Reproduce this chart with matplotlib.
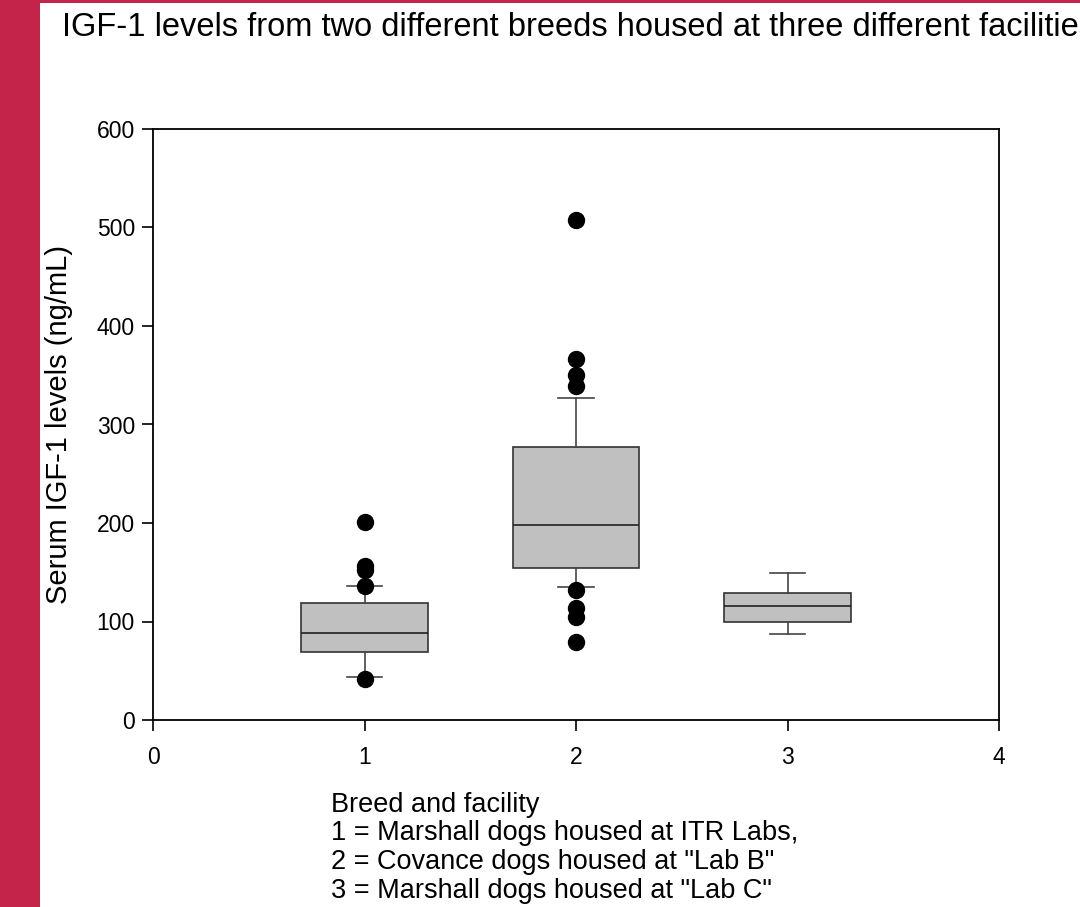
import matplotlib
matplotlib.use("Agg")
import matplotlib.pyplot as plt
import matplotlib.patches as mpatches

plt.rcParams['font.family'] = ['Liberation Sans', 'DejaVu Sans']

# Box statistics (ng/mL)
groups = [1, 2, 3]
q1 = [69, 154, 100]
medians = [88, 198, 116]
q3 = [119, 277, 129]
whisker_lo = [44, 135, 87]
whisker_hi = [136, 327, 149]
outliers = [
    [201, 156, 152, 136, 42],
    [508, 366, 350, 339, 132, 114, 105, 79],
    [],
]

y_ticks = [0, 100, 200, 300, 400, 500, 600]
x_ticks = [0, 1, 2, 3, 4]

title = "IGF-1 levels from two different breeds housed at three different facilities"
legend_lines = [
    "Breed and facility",
    "1 = Marshall dogs housed at ITR Labs,",
    '2 = Covance dogs housed at "Lab B"',
    '3 = Marshall dogs housed at "Lab C"',
]

fig = plt.figure(figsize=(10.8, 9.07), dpi=100)

# slide decoration: red bar on the left and thin strip at top
fig.patches.append(mpatches.Rectangle((0, 0), 40 / 1080, 1, transform=fig.transFigure,
                                      facecolor='#C4244A', edgecolor='none', zorder=0))
fig.patches.append(mpatches.Rectangle((0, 1 - 3 / 907), 1, 3 / 907, transform=fig.transFigure,
                                      facecolor='#C4244A', edgecolor='none', zorder=0))

ax = fig.add_axes([153 / 1080, 1 - 720 / 907, (999 - 153) / 1080, (720 - 129) / 907])

stats = []
for i in range(len(groups)):
    stats.append({
        'med': medians[i], 'q1': q1[i], 'q3': q3[i],
        'whislo': whisker_lo[i], 'whishi': whisker_hi[i],
        'fliers': outliers[i], 'label': str(groups[i]),
    })

ax.bxp(stats, positions=groups, widths=0.6, patch_artist=True, manage_ticks=False,
       boxprops=dict(facecolor='#C0C0C0', edgecolor='#333333', linewidth=1.2),
       medianprops=dict(color='#222222', linewidth=1.2),
       whiskerprops=dict(color='#444444', linewidth=1.2),
       capprops=dict(color='#444444', linewidth=1.2),
       capwidths=0.17,
       flierprops=dict(marker='o', markerfacecolor='black', markeredgecolor='black',
                       markersize=11.5))

ax.set_xlim(0, 4)
ax.set_ylim(0, 600)
ax.set_xticks(x_ticks)
ax.set_yticks(y_ticks)
ax.tick_params(direction='out', length=8, width=1.2, labelsize=16.5)
ax.tick_params(axis='y', pad=5)
ax.tick_params(axis='x', pad=11)
for s in ax.spines.values():
    s.set_linewidth(1.3)

ax.set_ylabel("Serum IGF-1 levels (ng/mL)", fontsize=21)
ax.yaxis.set_label_coords(-0.094, 0.5)

# title runs past the right edge in the original slide as well
fig.text(62 / 1080, 1 - 36 / 907, title, fontsize=23.5, ha='left', va='baseline')

for k, line in enumerate(legend_lines):
    fig.text(331 / 1080, 1 - (812 + k * 28.5) / 907, line, fontsize=19.5,
             ha='left', va='baseline')

fig.savefig("out.png", dpi=100, facecolor='white')
